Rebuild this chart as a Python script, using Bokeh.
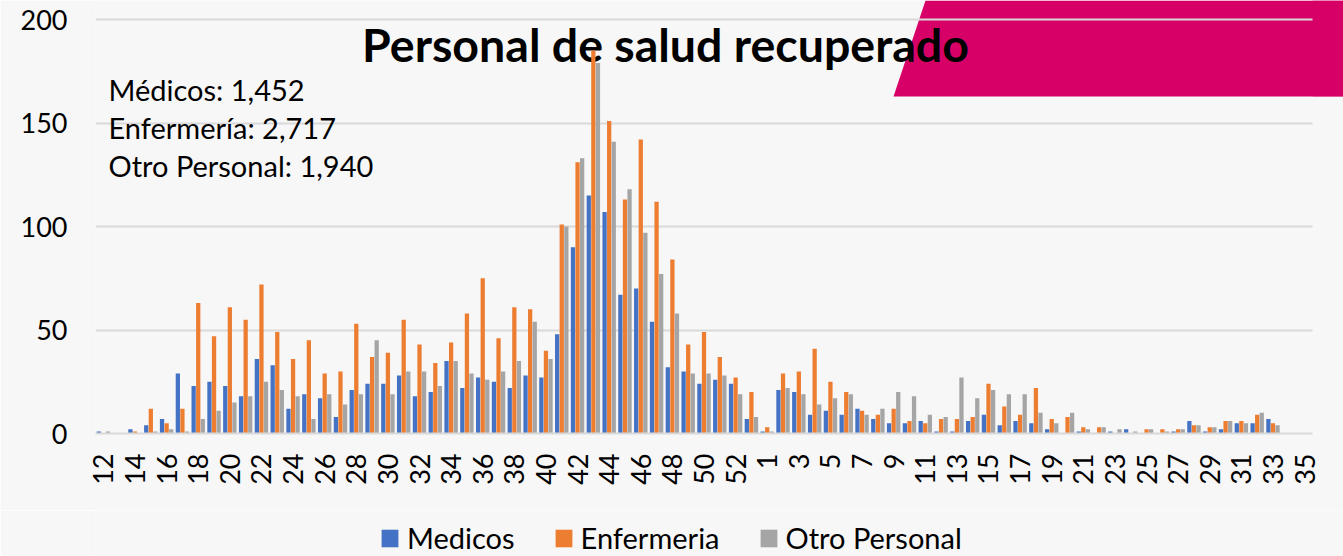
import numpy as np
from bokeh.plotting import figure
from bokeh.layouts import column
from bokeh.models import (ColumnDataSource, Range1d, FixedTicker, Label, PolyAnnotation,
                          BoxAnnotation, Legend, LegendItem)
from bokeh.transform import dodge
from bokeh.embed import file_html
from bokeh.resources import INLINE

weeks = list(range(12, 54)) + list(range(1, 36))
medicos = [1, 0, 2, 4, 7, 29, 23, 25, 23, 18, 36, 33, 12, 19, 17, 8, 21, 24, 24, 28, 18, 20, 35, 22,
           27, 25, 22, 28, 27, 48, 90, 115, 107, 67, 70, 54, 32, 30, 24, 26, 24, 7,
           1, 21, 20, 9, 11, 9, 12, 7, 5, 5, 6, 1, 1, 6, 9, 4, 6, 5, 2, 0, 1, 0, 1, 2, 0, 0, 1,
           6, 1, 2, 5, 5, 7, 0, 0]
enfermeria = [0, 0, 1, 12, 5, 12, 63, 47, 61, 55, 72, 49, 36, 45, 29, 30, 53, 37, 39, 55, 43, 34, 44, 58,
              75, 46, 61, 60, 40, 101, 131, 185, 151, 113, 142, 112, 84, 43, 49, 37, 27, 20,
              3, 29, 30, 41, 25, 20, 11, 9, 12, 6, 5, 7, 7, 8, 24, 13, 9, 22, 7, 8, 3, 3, 0, 0, 2, 2, 2,
              4, 3, 6, 6, 9, 5, 0, 0]
otro = [1, 0, 0, 1, 2, 1, 7, 11, 15, 18, 25, 21, 18, 7, 19, 14, 19, 45, 19, 30, 30, 23, 35, 29,
        26, 30, 35, 54, 36, 100, 133, 179, 141, 118, 97, 77, 58, 29, 29, 28, 19, 8,
        1, 22, 19, 14, 17, 19, 9, 12, 20, 18, 9, 8, 27, 17, 21, 19, 19, 10, 5, 10, 2, 3, 2, 1, 2, 1, 2,
        4, 3, 6, 5, 10, 4, 0, 0]
series_names = ["Medicos", "Enfermeria", "Otro Personal"]
series_colors = ["#4472C4", "#ED7D31", "#A5A5A5"]
y_ticks = [0, 50, 100, 150, 200]
title_text = "Personal de salud recuperado"
info_lines = ["Médicos: 1,452", "Enfermería: 2,717", "Otro Personal: 1,940"]

FONT = "Lato"
BG = "#F7F7F7"
MAGENTA = "#D60066"

W, H = 1343, 556
LEG_H = 46
MAIN_H = H - LEG_H              # 510
LEFT = 95
FRAME_BOTTOM = 433              # frame: x 95..1343, y 0..433
PLOT_RIGHT = 1312               # where the category area ends
n = len(weeks)
cat_px = (PLOT_RIGHT - LEFT) / n
frame_w = W - LEFT
frame_h = FRAME_BOTTOM
y_px = (frame_h - 19) / 200.0   # 200 sits at y=19

idx = list(range(n))
src = ColumnDataSource(dict(idx=idx, medicos=medicos, enfermeria=enfermeria, otro=otro))

p = figure(width=W, height=MAIN_H, output_backend="svg", toolbar_location=None,
           x_range=Range1d(-0.5, -0.5 + frame_w / cat_px),
           y_range=Range1d(0, frame_h / y_px),
           min_border_left=LEFT, min_border_right=0, min_border_top=0,
           min_border_bottom=MAIN_H - FRAME_BOTTOM)
p.background_fill_color = BG
p.border_fill_color = BG
p.outline_line_color = None

# decorative magenta banner (canvas units)
p.add_layout(PolyAnnotation(xs=[925, W, W, 893], ys=[0, 0, 96, 96],
                            xs_units="canvas", ys_units="canvas",
                            fill_color=MAGENTA, fill_alpha=1.0, line_color=None, level="image"))

# title and totals
p.add_layout(Label(x=665, y=43, x_units="canvas", y_units="canvas", text=title_text,
                   text_font=FONT, text_font_style="bold", text_font_size="46.5px",
                   text_align="center", text_baseline="alphabetic", text_color="#000000",
                   level="underlay"))
for k, line in enumerate(info_lines):
    p.add_layout(Label(x=108, y=89 + 38 * k, x_units="canvas", y_units="canvas", text=line,
                       text_font=FONT, text_font_size="29px", text_align="left",
                       text_baseline="alphabetic", text_color="#000000", level="underlay"))

offs = [-0.29, 0.0, 0.29]
cols = ["medicos", "enfermeria", "otro"]
for c, o, col in zip(cols, offs, series_colors):
    p.vbar(x=dodge("idx", o, range=p.x_range), top=c, width=0.27, source=src,
           fill_color=col, line_color=None)

# hide grid extension beyond the category area
p.add_layout(BoxAnnotation(left=PLOT_RIGHT, right=W, top=96, bottom=frame_h - 1,
                           left_units="canvas", right_units="canvas",
                           top_units="canvas", bottom_units="canvas",
                           fill_color=BG, fill_alpha=1.0, line_color=None, level="glyph"))
p.add_layout(BoxAnnotation(left=PLOT_RIGHT, right=W, top=0, bottom=96,
                           left_units="canvas", right_units="canvas",
                           top_units="canvas", bottom_units="canvas",
                           fill_color=MAGENTA, fill_alpha=1.0, line_color=None, level="glyph"))

# axes
p.xaxis.ticker = FixedTicker(ticks=idx[::2])
p.xaxis.bounds = (-0.5, n - 0.5)
p.xaxis.major_label_overrides = {i: str(weeks[i]) for i in idx[::2]}
p.xaxis.major_label_orientation = np.pi / 2
p.xaxis.major_label_text_font = FONT
p.xaxis.major_label_text_font_size = "27px"
p.xaxis.major_label_text_color = "#000000"
p.xaxis.major_label_standoff = 20
p.xaxis.major_tick_out = 0
p.xaxis.major_tick_in = 0
p.xaxis.major_tick_line_color = None
p.xaxis.minor_tick_line_color = None
p.xaxis.axis_line_color = "#D9D9D9"
p.xaxis.axis_line_width = 2

p.yaxis.ticker = FixedTicker(ticks=y_ticks)
p.yaxis.major_label_text_font = FONT
p.yaxis.major_label_text_font_size = "27px"
p.yaxis.major_label_text_color = "#000000"
p.yaxis.major_label_standoff = 28
p.yaxis.major_tick_out = 0
p.yaxis.major_tick_in = 0
p.yaxis.major_tick_line_color = None
p.yaxis.minor_tick_line_color = None
p.yaxis.axis_line_color = None

p.xgrid.grid_line_color = None
p.ygrid.grid_line_color = "#D9D9D9"
p.ygrid.grid_line_width = 2

# legend strip as its own small figure (its frame aligns with the main frame)
lf = figure(width=W, height=LEG_H, output_backend="svg", toolbar_location=None,
            x_range=Range1d(0, 1), y_range=Range1d(0, 1),
            x_axis_location=None, y_axis_location=None,
            min_border_left=LEFT, min_border_right=0, min_border_top=0, min_border_bottom=0)
lf.grid.visible = False
lf.outline_line_color = None
lf.background_fill_color = BG
lf.border_fill_color = BG
offscreen = ColumnDataSource(dict(left=[-5], right=[-4], top=[-4], bottom=[-5]))
leg_rends = [lf.quad(left="left", right="right", top="top", bottom="bottom", source=offscreen,
                     fill_color=col, line_color=None)
             for col in series_colors]
legend = Legend(items=[LegendItem(label=nm, renderers=[r]) for nm, r in zip(series_names, leg_rends)],
                orientation="horizontal", location=(379 - LEFT, 1), margin=0,
                label_text_font=FONT, label_text_font_size="29px", label_text_color="#000000",
                glyph_width=21, glyph_height=22, label_standoff=7, spacing=38,
                padding=0, border_line_color=None, background_fill_alpha=0)
lf.add_layout(legend)

layout = column(p, lf, spacing=0)
open("out.html", "w").write(file_html(layout, INLINE))
